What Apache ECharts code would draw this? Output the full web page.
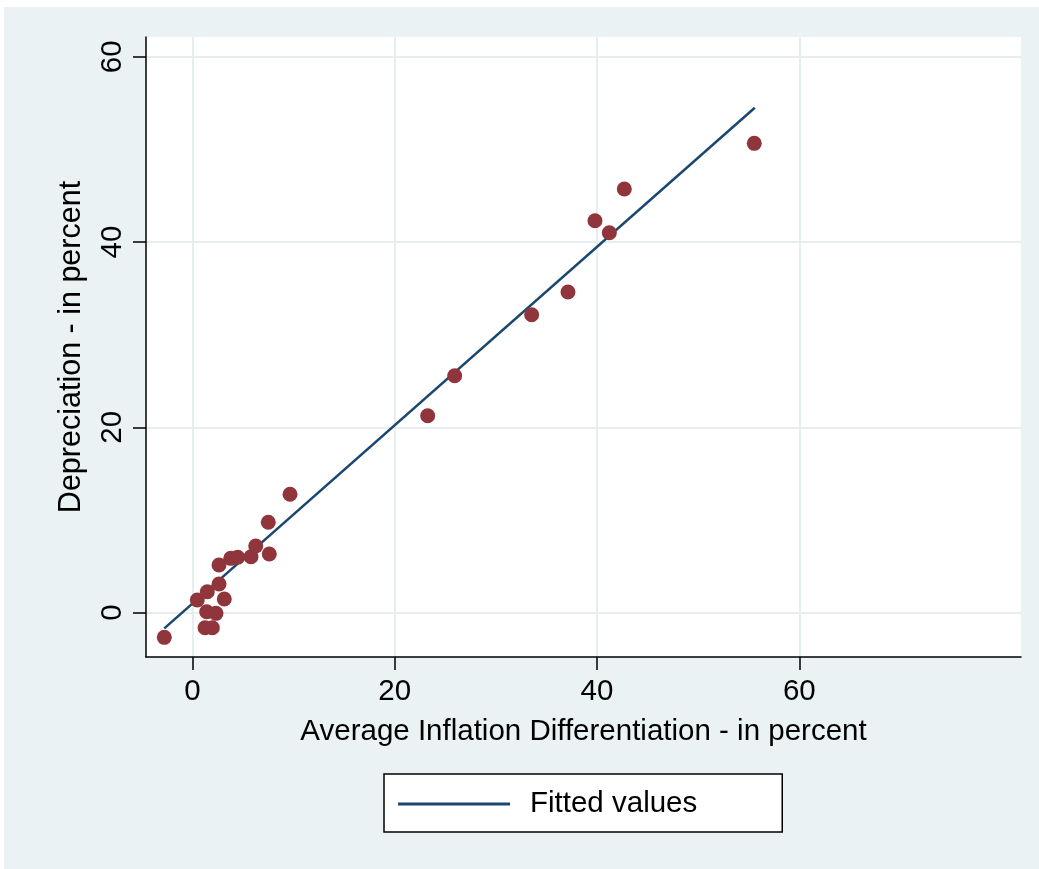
<!DOCTYPE html>
<html>
<head>
<meta charset="utf-8">
<script src="https://cdn.jsdelivr.net/npm/echarts@6/dist/echarts.min.js"></script>
<style>
  html, body { margin: 0; padding: 0; background: #eaf2f3; overflow: hidden; }
  .edge { position: absolute; background: #ffffff; }
  #chart { position: absolute; left: 4px; top: 7px; width: 1035px; height: 862px; }
</style>
</head>
<body>
<div class="edge" style="left:0;top:0;width:100%;height:7px"></div>
<div class="edge" style="left:0;top:0;width:4px;height:100%"></div>
<div id="chart"></div>
<script>
// Average inflation differential (x) vs depreciation (y), both in percent
const inflationDiff = [-2.78, 0.48, 1.47, 1.41, 2.33, 1.25, 1.97, 3.15, 2.63, 2.63,
  3.79, 4.48, 5.79, 6.26, 7.6, 7.5, 9.65, 23.26, 25.93, 33.54, 37.13, 39.8, 41.22, 42.7, 55.55];
const depreciation = [-2.67, 1.36, 2.26, 0.10, -0.08, -1.63, -1.63, 1.47, 3.09, 5.14,
  5.86, 5.97, 6.03, 7.19, 6.32, 9.75, 12.77, 21.25, 25.57, 32.15, 34.6, 42.3, 41.0, 45.72, 50.65];

// Endpoints of the fitted regression line
const fitX = [-2.78, 55.6];
const fitY = [-1.7, 54.5];

const xTicks = [0, 20, 40, 60];
const yTicks = [0, 20, 40, 60];

const points = inflationDiff.map((x, i) => [x, depreciation[i]]);
const fitLine = fitX.map((x, i) => [x, fitY[i]]);

const FONT = 'Arial, "Liberation Sans", Helvetica, sans-serif';
const FS = 29.5;
const GRID_COLOR = '#e6eef0';

const chart = echarts.init(document.getElementById('chart'), null, { renderer: 'canvas' });
chart.setOption({
  backgroundColor: '#eaf2f3',
  animation: false,
  textStyle: { fontFamily: FONT, color: '#000' },
  grid: { left: 142, right: 18, top: 30, bottom: 212, backgroundColor: '#ffffff', show: true, borderWidth: 0 },
  xAxis: {
    type: 'value',
    min: -4.59, max: 81.92,
    name: 'Average Inflation Differentiation - in percent',
    nameLocation: 'middle',
    nameGap: 60,
    nameTextStyle: { fontSize: FS, color: '#000', fontFamily: FONT },
    axisLine: { show: true, onZero: false, lineStyle: { color: '#000', width: 1.5 } },
    axisTick: { show: true, length: 13, lineStyle: { color: '#000', width: 1.5 }, customValues: xTicks },
    axisLabel: { fontSize: FS, color: '#000', margin: 20, fontFamily: FONT, customValues: xTicks },
    splitLine: { show: true, lineStyle: { color: GRID_COLOR, width: 2 } }
  },
  yAxis: {
    type: 'value',
    min: -4.79, max: 62.13,
    name: 'Depreciation - in percent',
    nameLocation: 'middle',
    nameGap: 59,
    nameRotate: 90,
    nameTextStyle: { fontSize: 30.5, color: '#000', fontFamily: FONT },
    axisLine: { show: true, onZero: false, lineStyle: { color: '#000', width: 1.5 } },
    axisTick: { show: true, length: 13, lineStyle: { color: '#000', width: 1.5 }, customValues: yTicks },
    axisLabel: { fontSize: FS, color: '#000', margin: 18, rotate: 90, fontFamily: FONT, customValues: yTicks },
    splitLine: { show: true, lineStyle: { color: GRID_COLOR, width: 2 } }
  },
  legend: {
    data: ['Fitted values'],
    left: 380, top: 767,
    orient: 'horizontal',
    backgroundColor: '#ffffff',
    borderColor: '#000',
    borderWidth: 1.5,
    borderRadius: 0,
    padding: [15, 85, 13, 14],
    itemWidth: 112,
    itemHeight: 3,
    itemGap: 10,
    icon: 'rect',
    textStyle: { fontSize: FS, color: '#000', fontFamily: FONT, padding: [0, 0, 0, 15], lineHeight: 29 }
  },
  series: [
    {
      name: 'Depreciation',
      type: 'scatter',
      data: points,
      symbol: 'circle',
      symbolSize: 15,
      itemStyle: { color: '#90353b', opacity: 1 },
      z: 5
    },
    {
      name: 'Fitted values',
      type: 'line',
      data: fitLine,
      showSymbol: false,
      symbol: 'none',
      lineStyle: { color: '#1a476f', width: 2.5 },
      itemStyle: { color: '#1a476f' },
      z: 3
    }
  ]
});
</script>
</body>
</html>
